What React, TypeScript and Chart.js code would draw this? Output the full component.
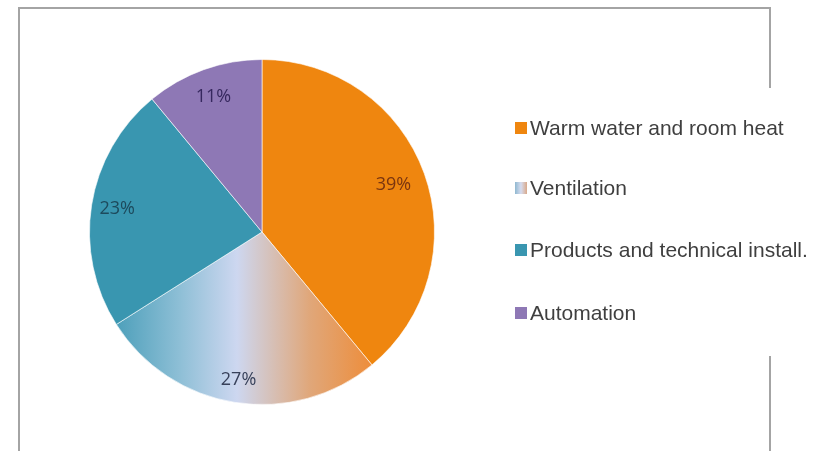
import React, { useEffect, useRef } from "react";
import { Chart, registerables } from "chart.js";

Chart.register(...registerables);

const categories = ["Warm water and room heat", "Ventilation", "Products and technical install.", "Automation"];
const values = [39, 27, 23, 11];
const valueLabels = ["39%", "27%", "23%", "11%"];

const ORANGE = "#ef860f";
const TEAL = "#3996b0";
const PURPLE = "#8e78b5";
const labelColors = ["#7a3510", "#37415a", "#1d4a5c", "#36285e"];
const labelRadius = [0.81, 0.87, 0.85, 0.83];

export default function App() {
  const ref = useRef<HTMLCanvasElement | null>(null);

  useEffect(() => {
    document.body.style.margin = "0";
    const canvas = ref.current!;

    const framePlugin = {
      id: "frame",
      beforeDraw(chart: any) {
        const ctx = chart.ctx;
        ctx.save();
        ctx.strokeStyle = "#a4a4a4";
        ctx.lineWidth = 2;
        ctx.beginPath();
        ctx.moveTo(19, 451);
        ctx.lineTo(19, 8);
        ctx.lineTo(770, 8);
        ctx.lineTo(770, 88);
        ctx.moveTo(770, 356);
        ctx.lineTo(770, 451);
        ctx.stroke();
        ctx.restore();
      },
    };

    const labelPlugin = {
      id: "sliceLabels",
      afterDatasetsDraw(chart: any) {
        const ctx = chart.ctx;
        const meta = chart.getDatasetMeta(0);
        ctx.save();
        ctx.font = "18px 'Open Sans', 'Noto Sans', sans-serif";
        ctx.textAlign = "center";
        ctx.textBaseline = "middle";
        meta.data.forEach((arc: any, i: number) => {
          const p = arc.getProps(["x", "y", "startAngle", "endAngle", "outerRadius"], true);
          const mid = (p.startAngle + p.endAngle) / 2;
          const r = p.outerRadius * labelRadius[i];
          ctx.fillStyle = labelColors[i];
          ctx.fillText(valueLabels[i], p.x + Math.cos(mid) * r, p.y + Math.sin(mid) * r);
        });
        ctx.restore();
      },
    };

    const chart = new Chart(canvas, {
      type: "pie",
      data: {
        labels: categories,
        datasets: [
          {
            data: values,
            backgroundColor: (ctx: any) => {
              const i = ctx.dataIndex;
              if (i === 0) return ORANGE;
              if (i === 2) return TEAL;
              if (i === 3) return PURPLE;
              const ca = ctx.chart.chartArea;
              if (!ca) return "#c9d4ee";
              const cx = (ca.left + ca.right) / 2;
              const r = Math.min(ca.right - ca.left, ca.bottom - ca.top) / 2;
              const g = ctx.chart.ctx.createLinearGradient(cx - 0.85 * r, 0, cx + 0.65 * r, 0);
              g.addColorStop(0, "#4c9fba");
              g.addColorStop(0.25, "#8ebfd6");
              g.addColorStop(0.47, "#cdd7f0");
              g.addColorStop(0.75, "#e0a77a");
              g.addColorStop(1, "#ee8c38");
              return g;
            },
            borderColor: "rgba(255,255,255,0.6)",
            borderWidth: 1,
          },
        ],
      },
      options: {
        responsive: false,
        animation: false,
        layout: { padding: { left: 89, right: 380, top: 59, bottom: 46 } },
        plugins: {
          legend: { display: false },
          tooltip: { enabled: false },
        },
      },
      plugins: [framePlugin, labelPlugin],
    });
    return () => chart.destroy();
  }, []);

  const legendTop = [128, 188, 250, 313];
  const swatches = [
    ORANGE,
    "linear-gradient(90deg, #8fb8d0, #d7dcef 50%, #d9a98a)",
    TEAL,
    PURPLE,
  ];

  return (
    <div style={{ position: "relative", width: 815, height: 451, background: "#fff" }}>
      <canvas ref={ref} width={815} height={451} style={{ position: "absolute", left: 0, top: 0 }} />
      {categories.map((c, i) => (
        <div
          key={c}
          style={{
            position: "absolute",
            left: 515,
            top: legendTop[i] - 13,
            height: 26,
            display: "flex",
            alignItems: "center",
            fontFamily: "'Liberation Sans', Arial, sans-serif",
            fontSize: 21,
            color: "#3f3f3f",
            whiteSpace: "nowrap",
          }}
        >
          <span style={{ display: "inline-block", width: 12, height: 12, background: swatches[i], marginRight: 3 }} />
          {c}
        </div>
      ))}
    </div>
  );
}
